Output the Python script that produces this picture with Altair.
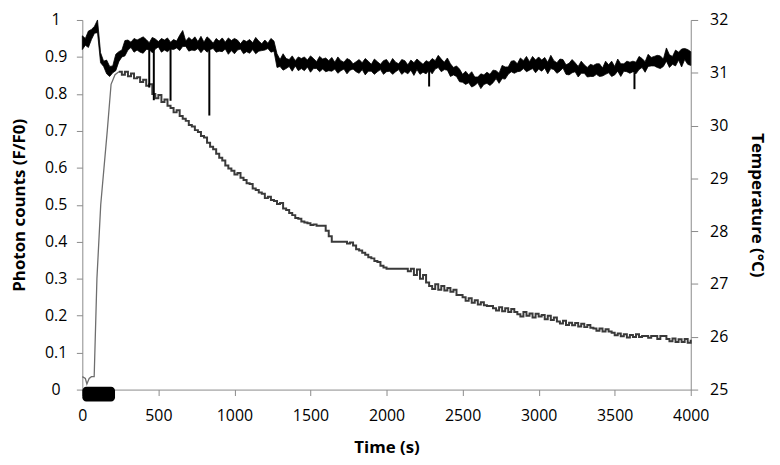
import altair as alt
import pandas as pd

# ---------------- data ----------------
# Photon counts (F/F0): initial baseline + fast rise after stimulation
rise_time = [0, 20, 30, 45, 60, 78, 96, 121, 164, 189, 215, 240]
rise_value = [0.035, 0.03, 0.015, 0.03, 0.035, 0.035, 0.30, 0.50, 0.70, 0.826, 0.852, 0.86]

# Photon counts decay (step-wise, sampled every 20 s from 240 s to 4000 s)
decay_time = list(range(240, 4001, 20))
decay_value = [
    0.86, 0.852, 0.86, 0.848, 0.855, 0.842, 0.845, 0.832, 0.838, 0.822,
    0.826, 0.80, 0.788, 0.797, 0.778, 0.785, 0.768, 0.762, 0.75, 0.756,
    0.74, 0.733, 0.727, 0.716, 0.712, 0.702, 0.697, 0.686, 0.682, 0.668,
    0.657, 0.65, 0.638, 0.627, 0.62, 0.606, 0.598, 0.592, 0.582, 0.586,
    0.573, 0.567, 0.558, 0.556, 0.544, 0.54, 0.533, 0.53, 0.518, 0.522,
    0.513, 0.51, 0.502, 0.505, 0.49, 0.486, 0.478, 0.472, 0.464, 0.462,
    0.455, 0.452, 0.45, 0.445, 0.447, 0.443, 0.443, 0.443, 0.43, 0.415,
    0.40, 0.40, 0.40, 0.40, 0.40, 0.395, 0.398, 0.39, 0.38, 0.376,
    0.37, 0.365, 0.358, 0.355, 0.348, 0.345, 0.335, 0.33, 0.327, 0.327,
    0.327, 0.327, 0.327, 0.327, 0.327, 0.32, 0.327, 0.31, 0.325, 0.30,
    0.31, 0.29, 0.28, 0.272, 0.285, 0.27, 0.28, 0.268, 0.275, 0.265,
    0.27, 0.256, 0.256, 0.25, 0.24, 0.247, 0.235, 0.242, 0.23, 0.236,
    0.228, 0.226, 0.226, 0.22, 0.214, 0.223, 0.212, 0.22, 0.21, 0.218,
    0.21, 0.204, 0.198, 0.21, 0.2, 0.206, 0.195, 0.205, 0.198, 0.202,
    0.19, 0.2, 0.188, 0.195, 0.184, 0.179, 0.186, 0.175, 0.181, 0.174,
    0.18, 0.171, 0.178, 0.169, 0.175, 0.167, 0.165, 0.159, 0.165, 0.157,
    0.163, 0.157, 0.154, 0.147, 0.152, 0.144, 0.15, 0.141, 0.148, 0.142,
    0.15, 0.142, 0.145, 0.145, 0.14, 0.145, 0.145, 0.137, 0.145, 0.145,
    0.137, 0.131, 0.138, 0.129, 0.136, 0.129, 0.137, 0.127, 0.135,
]

# Temperature (°C): upper / lower edge of the noisy trace, every 20 s from 0 to 4000 s
temp_time = list(range(0, 4001, 20))
temp_high = [
    31.70, 31.65, 31.79, 31.82, 31.88, 32.00, 31.38, 31.22, 31.24, 31.12,
    31.13, 31.35, 31.40, 31.43, 31.61, 31.62, 31.58, 31.65, 31.62, 31.65,
    31.68, 31.63, 31.57, 31.67, 31.64, 31.59, 31.65, 31.62, 31.66, 31.58,
    31.63, 31.60, 31.71, 31.80, 31.60, 31.67, 31.62, 31.68, 31.59, 31.69,
    31.58, 31.68, 31.63, 31.56, 31.65, 31.60, 31.66, 31.58, 31.66, 31.61,
    31.65, 31.62, 31.55, 31.62, 31.59, 31.63, 31.57, 31.67, 31.60, 31.55,
    31.62, 31.56, 31.65, 31.60, 31.36, 31.25, 31.36, 31.27, 31.25, 31.32,
    31.23, 31.30, 31.27, 31.30, 31.24, 31.32, 31.27, 31.21, 31.31, 31.26,
    31.28, 31.23, 31.29, 31.20, 31.30, 31.23, 31.20, 31.27, 31.24, 31.17,
    31.21, 31.25, 31.19, 31.27, 31.22, 31.16, 31.26, 31.21, 31.16, 31.23,
    31.25, 31.17, 31.27, 31.20, 31.17, 31.25, 31.23, 31.15, 31.24, 31.19,
    31.26, 31.21, 31.16, 31.23, 31.20, 31.27, 31.23, 31.33, 31.26, 31.20,
    31.28, 31.17, 31.10, 31.13, 31.07, 30.97, 31.03, 30.96, 31.02, 30.92,
    30.92, 30.98, 30.96, 31.01, 30.97, 31.05, 31.04, 30.99, 31.14, 31.11,
    31.11, 31.22, 31.23, 31.17, 31.28, 31.23, 31.31, 31.21, 31.31, 31.24,
    31.30, 31.24, 31.29, 31.20, 31.33, 31.23, 31.19, 31.26, 31.25, 31.15,
    31.18, 31.25, 31.19, 31.12, 31.22, 31.15, 31.10, 31.16, 31.14, 31.17,
    31.17, 31.09, 31.22, 31.15, 31.22, 31.12, 31.26, 31.17, 31.17, 31.22,
    31.20, 31.22, 31.20, 31.31, 31.27, 31.21, 31.35, 31.29, 31.31, 31.33,
    31.32, 31.26, 31.47, 31.34, 31.31, 31.43, 31.39, 31.45, 31.46, 31.44,
    31.40,
]
temp_low = [
    31.44, 31.52, 31.48, 31.63, 31.75, 31.76, 31.19, 31.12, 30.98, 30.93,
    31.00, 31.04, 31.21, 31.30, 31.32, 31.43, 31.48, 31.39, 31.43, 31.39,
    31.37, 31.44, 31.44, 31.38, 31.45, 31.49, 31.39, 31.43, 31.40, 31.45,
    31.44, 31.47, 31.42, 31.50, 31.50, 31.41, 31.43, 31.42, 31.46, 31.38,
    31.45, 31.39, 31.44, 31.46, 31.39, 31.41, 31.40, 31.45, 31.35, 31.42,
    31.36, 31.43, 31.45, 31.36, 31.40, 31.37, 31.44, 31.36, 31.41, 31.42,
    31.43, 31.46, 31.39, 31.41, 31.10, 31.12, 31.05, 31.08, 31.12, 31.03,
    31.13, 31.04, 31.08, 31.04, 31.11, 31.01, 31.08, 31.08, 31.02, 31.07,
    31.02, 31.04, 31.03, 31.07, 30.99, 31.04, 31.07, 30.98, 31.05, 31.07,
    31.02, 30.99, 31.06, 30.96, 31.03, 31.03, 30.97, 31.02, 31.06, 30.97,
    31.02, 31.03, 30.97, 31.02, 31.06, 30.97, 31.02, 30.98, 31.05, 30.95,
    31.06, 30.97, 31.01, 30.98, 31.05, 30.98, 31.07, 31.10, 31.02, 31.06,
    31.05, 30.93, 30.96, 30.93, 30.83, 30.82, 30.78, 30.81, 30.73, 30.76,
    30.81, 30.70, 30.78, 30.80, 30.76, 30.81, 30.89, 30.80, 30.89, 30.88,
    30.97, 31.02, 30.99, 31.02, 31.03, 31.08, 31.02, 31.05, 31.08, 31.00,
    31.07, 31.03, 31.09, 30.98, 31.08, 31.06, 30.99, 31.03, 31.09, 30.97,
    30.96, 31.00, 31.02, 30.92, 30.99, 30.99, 30.92, 30.93, 30.93, 30.97,
    30.93, 30.94, 30.97, 31.00, 30.93, 30.96, 31.03, 30.93, 31.03, 31.02,
    30.99, 31.02, 30.98, 31.06, 31.10, 31.01, 31.12, 31.13, 31.13, 31.10,
    31.08, 31.12, 31.22, 31.10, 31.16, 31.13, 31.24, 31.11, 31.25, 31.16,
    31.14,
]

# Sharp downward spikes in the temperature trace
spike_time = [440, 470, 580, 835, 2280, 3630]
spike_top = [31.50, 31.50, 31.50, 31.50, 31.05, 31.00]
spike_bottom = [30.72, 30.48, 30.47, 30.19, 30.74, 30.69]

# Stimulation period marker (s)
stim_start = [0]
stim_end = [215]

# Axis tick values
photon_ticks = [0, 0.1, 0.2, 0.3, 0.4, 0.5, 0.6, 0.7, 0.8, 0.9, 1]
temp_ticks = [25, 26, 27, 28, 29, 30, 31, 32]
time_ticks = [0, 500, 1000, 1500, 2000, 2500, 3000, 3500, 4000]

# ---------------- chart ----------------
W, H = 614, 373
FONT = "Open Sans"
AXIS_GRAY = "#8a8a8a"
PHOTON_GRAY = "#3a3a3a"

rise_df = pd.DataFrame({"t": rise_time, "v": rise_value})
decay_df = pd.DataFrame({"t": decay_time, "v": decay_value})
temp_df = pd.DataFrame({"t": temp_time, "hi": temp_high, "lo": temp_low})
spike_df = pd.DataFrame({"t": spike_time, "hi": spike_top, "lo": spike_bottom})
stim_df = pd.DataFrame({"t": stim_start, "t1": stim_end, "v": [0.008], "v2": [-0.032]})

x_scale = alt.Scale(domain=[0, 4000], nice=False, zero=False)
y_left_scale = alt.Scale(domain=[0, 1], nice=False)
y_right_scale = alt.Scale(domain=[25, 32], nice=False, zero=False)

x_axis = alt.Axis(
    title="Time (s)", values=time_ticks, format="d", grid=False,
    domainColor=AXIS_GRAY, tickColor=AXIS_GRAY, tickSize=6,
    labelPadding=12, labelFontSize=16, labelFont=FONT, labelColor="black",
    titleFont=FONT, titleFontSize=17, titleFontWeight="bold", titleColor="black",
    titleX=W / 2, titleY=58, titleBaseline="middle", titleAnchor="middle",
    labelFlush=False, labelOverlap=False,
)

left_axis = alt.Axis(
    title="Photon counts (F/F0)", orient="left", values=photon_ticks, format=".1~f",
    grid=False, domainColor=AXIS_GRAY, tickColor=AXIS_GRAY, tickSize=6,
    labelAlign="center", labelPadding=21, labelFontSize=16, labelFont=FONT,
    labelColor="black", labelFlush=False, labelOverlap=False,
    titleFont=FONT, titleFontSize=17, titleFontWeight="bold", titleColor="black",
    titleX=-63, titleY=H / 2, titleBaseline="middle", titleAnchor="middle", titleAngle=270,
)

right_axis = alt.Axis(
    title="Temperature (°C)", orient="right", values=temp_ticks, format="d",
    grid=False, domainColor=AXIS_GRAY, tickColor=AXIS_GRAY, tickSize=7,
    labelPadding=12, labelFontSize=16, labelFont=FONT, labelColor="black",
    labelFlush=False, labelOverlap=False,
    titleFont=FONT, titleFontSize=17, titleFontWeight="bold", titleColor="black",
    titleX=66, titleY=H / 2, titleBaseline="middle", titleAnchor="middle", titleAngle=90,
)

X = alt.X("t:Q", scale=x_scale, axis=x_axis)

rise = alt.Chart(rise_df).mark_line(color="#6e6e6e", strokeWidth=1.3).encode(
    x=X, y=alt.Y("v:Q", scale=y_left_scale, axis=left_axis),
)

decay = alt.Chart(decay_df).mark_line(
    color=PHOTON_GRAY, strokeWidth=2, interpolate="step-after"
).encode(
    x=X, y=alt.Y("v:Q", scale=y_left_scale, axis=left_axis),
)

stim = alt.Chart(stim_df).mark_bar(color="black", cornerRadius=4).encode(
    x=X, x2="t1:Q",
    y=alt.Y("v:Q", scale=y_left_scale, axis=left_axis), y2="v2:Q",
)

left_layer = alt.layer(rise, decay, stim)

temp_band = alt.Chart(temp_df).mark_area(
    color="black", opacity=1, stroke="black", strokeWidth=0.8
).encode(
    x=X, y=alt.Y("hi:Q", scale=y_right_scale, axis=right_axis), y2="lo:Q",
)

temp_spikes = alt.Chart(spike_df).mark_rule(color="black", strokeWidth=2).encode(
    x=X, y=alt.Y("hi:Q", scale=y_right_scale, axis=right_axis), y2="lo:Q",
)

right_layer = alt.layer(temp_band, temp_spikes)

chart = (
    alt.layer(left_layer, right_layer)
    .resolve_scale(y="independent")
    .properties(
        width=W, height=H,
        autosize=alt.AutoSizeParams(type="none"),
        padding={"left": 75, "top": 10, "right": 82, "bottom": 72},
        background="white",
    )
    .configure_view(stroke=None)
)

chart.save("out.html", embed_options={"renderer": "svg", "actions": False})
